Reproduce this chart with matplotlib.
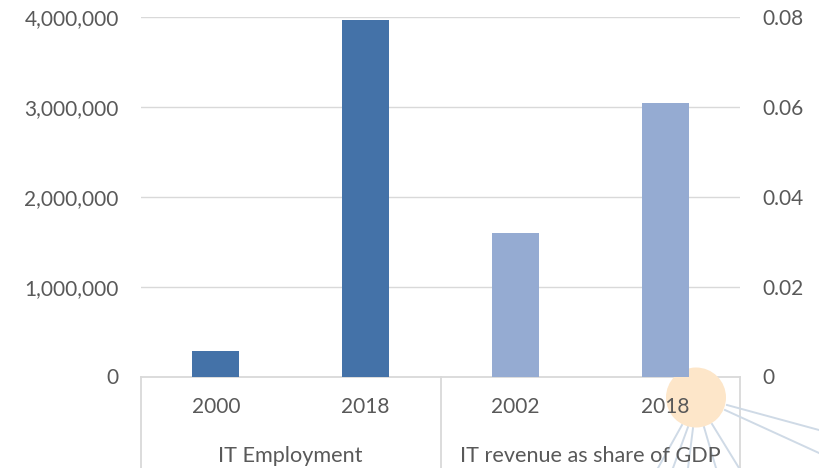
import matplotlib

matplotlib.use("Agg")
import matplotlib.pyplot as plt
from matplotlib.patches import Circle

W, H = 819, 468

# Data
years = ["2000", "2018", "2002", "2018"]
groups = ["IT Employment", "IT revenue as share of GDP"]
employment = [280000, 3970000]
revenue_share = [0.032, 0.0608]
left_ticks = [0, 1000000, 2000000, 3000000, 4000000]
right_ticks = [0, 0.02, 0.04, 0.06, 0.08]
right_labels = ["0", "0.02", "0.04", "0.06", "0.08"]

# Rays of the highlight, in pixels of the picture
rays = [
    ((727, 405), (819, 430)),
    ((725, 410), (819, 453)),
    ((682, 425), (658, 468)),
    ((688, 427), (673, 468)),
    ((693, 428), (688, 468)),
    ((704, 427), (716, 468)),
    ((712, 424), (739, 468)),
]

GRID = "#d9d9d9"
TEXT = "#595959"
FONT_SIZE = 15
GROUP_FONT_SIZE = 15.6

plt.rcParams["font.family"] = ["Lato", "DejaVu Sans"]

fig = plt.figure(figsize=(W / 100, H / 100), dpi=100)

# Bottom layer in pixel coordinates: category boxes, rays, circle
back = fig.add_axes([0, 0, 1, 1], zorder=0)
back.set_xlim(0, W)
back.set_ylim(H, 0)
back.axis("off")
back.plot([141, 740], [376.5, 376.5], color=GRID, linewidth=1.3)
for x in (141, 441, 740):
    back.plot([x, x], [376.5, H], color=GRID, linewidth=1.3)
for start, end in rays:
    back.plot([start[0], end[0]], [start[1], end[1]], color="#cfdae6", linewidth=1.4)
back.add_patch(Circle((696, 397.5), 30, facecolor="#fde6c9", edgecolor="none", zorder=4))
back.set_xlim(0, W)
back.set_ylim(H, 0)

# Chart on top, with a clear background
ax = fig.add_axes([141 / W, 1 - 376.5 / H, (740 - 141) / W, (376.5 - 17) / H], zorder=1)
ax.patch.set_visible(False)
ax2 = ax.twinx()
ax2.set_zorder(2)

ax.bar([0, 1], employment, width=0.315, color="#4472a8", zorder=3)
ax2.bar([2, 3], revenue_share, width=0.315, color="#95abd2", zorder=3)

ax.set_xlim(-0.5, 3.5)
ax.set_ylim(0, 4000000)
ax2.set_ylim(0, 0.08)

ax.set_yticks(left_ticks)
ax.set_yticklabels([f"{v:,}" for v in left_ticks])
ax2.set_yticks(right_ticks)
ax2.set_yticklabels(right_labels)
ax.set_xticks([])

ax.grid(axis="y", color=GRID, linewidth=1, zorder=0)
ax.set_axisbelow(True)
ax.get_ygridlines()[0].set_visible(False)
for a in (ax, ax2):
    for s in a.spines.values():
        s.set_visible(False)
    a.tick_params(axis="y", length=0, labelsize=FONT_SIZE, labelcolor=TEXT, pad=16)
ax2.set_xticks([])

# Year and group labels sit inside the boxes, above the circle
for i, year in enumerate(years):
    x = 141 + (i + 0.5) * (740 - 141) / 4
    fig.text(x / W, 1 - 407 / H, year, ha="center", va="center",
             fontsize=FONT_SIZE, color=TEXT, zorder=5)
fig.text(290.5 / W, 1 - 455.5 / H, groups[0], ha="center", va="center",
         fontsize=GROUP_FONT_SIZE, color=TEXT, zorder=5)
fig.text(590.5 / W, 1 - 455.5 / H, groups[1], ha="center", va="center",
         fontsize=GROUP_FONT_SIZE, color=TEXT, zorder=5)

fig.savefig("out.png", dpi=100)
plt.close(fig)
